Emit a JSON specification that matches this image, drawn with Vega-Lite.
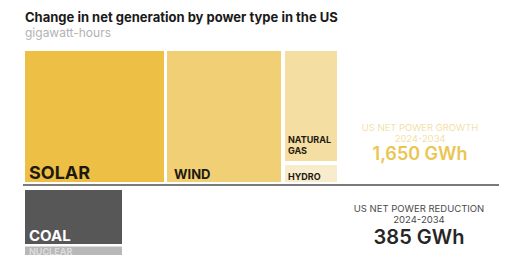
{
  "$schema": "https://vega.github.io/schema/vega-lite/v6.json",
  "width": 514,
  "height": 210,
  "autosize": "none",
  "padding": {"left": 0, "top": 45, "right": 0, "bottom": 0},
  "background": "white",
  "title": {
    "text": "Change in net generation by power type in the US",
    "subtitle": "gigawatt-hours",
    "anchor": "start",
    "dx": 25,
    "offset": 6,
    "font": "Inter",
    "fontSize": 13,
    "fontWeight": "bold",
    "color": "#1a1a1a",
    "subtitleFont": "Inter",
    "subtitleFontSize": 12,
    "subtitleColor": "#b3b3b3",
    "subtitlePadding": 3
  },
  "config": {"view": {"stroke": null}, "text": {"baseline": "alphabetic"}},
  "datasets": {
    "blocks": [
      {"type": "Solar", "x0": 25, "x1": 164, "y0": 3, "y1": 134},
      {"type": "Wind", "x0": 167, "x1": 281, "y0": 3, "y1": 134},
      {"type": "Natural gas", "x0": 285, "x1": 337, "y0": 24, "y1": 134},
      {"type": "Hydro", "x0": 285, "x1": 337, "y0": 3, "y1": 20},
      {"type": "Coal", "x0": 25, "x1": 122, "y0": -59, "y1": -5},
      {"type": "Nuclear", "x0": 25, "x1": 122, "y0": -100, "y1": -61.5}
    ],
    "baseline": [{"x0": 23, "x1": 499, "y": 0}],
    "solarLabel": [{"text": "SOLAR", "x": 29, "y": 6}],
    "windLabel": [{"text": "WIND", "x": 174, "y": 6}],
    "smallLabels": [
      {"text": "NATURAL", "x": 288, "y": 42},
      {"text": "GAS", "x": 288, "y": 31},
      {"text": "HYDRO", "x": 288, "y": 5}
    ],
    "coalLabel": [{"text": "COAL", "x": 29, "y": -56}],
    "nuclearLabel": [{"text": "NUCLEAR", "x": 29, "y": -69.5}],
    "growthNote": [
      {"text": "US NET POWER GROWTH", "x": 420, "y": 54},
      {"text": "2024-2034", "x": 420, "y": 43}
    ],
    "growthValue": [{"text": "1,650 GWh", "x": 420, "y": 25}],
    "reductionNote": [
      {"text": "US NET POWER REDUCTION", "x": 419, "y": -27},
      {"text": "2024-2034", "x": 419, "y": -38}
    ],
    "reductionValue": [{"text": "385 GWh", "x": 419, "y": -59}]
  },
  "encoding": {
    "x": {"field": "x", "type": "quantitative", "scale": {"domain": [0, 514], "nice": false, "zero": false}, "axis": null},
    "y": {"field": "y", "type": "quantitative", "scale": {"domain": [-70, 140], "nice": false, "zero": false}, "axis": null}
  },
  "layer": [
    {
      "data": {"name": "blocks"},
      "mark": {"type": "rect"},
      "encoding": {
        "x": {"field": "x0", "type": "quantitative"},
        "x2": {"field": "x1"},
        "y": {"field": "y0", "type": "quantitative"},
        "y2": {"field": "y1"},
        "color": {
          "field": "type", "type": "nominal", "legend": null,
          "scale": {
            "domain": ["Solar", "Wind", "Natural gas", "Hydro", "Coal", "Nuclear"],
            "range": ["#EDBF45", "#F1CF74", "#F5DEA2", "#F8ECCD", "#575757", "#B8B8B8"]
          }
        }
      }
    },
    {
      "data": {"name": "baseline"},
      "mark": {"type": "rule", "color": "#7a7a7a", "strokeWidth": 2},
      "encoding": {
        "x": {"field": "x0", "type": "quantitative"},
        "x2": {"field": "x1"},
        "y": {"field": "y", "type": "quantitative"}
      }
    },
    {
      "data": {"name": "solarLabel"},
      "mark": {"type": "text", "align": "left", "baseline": "alphabetic", "font": "Inter", "fontSize": 18, "fontWeight": "bold", "color": "#1e1a10"},
      "encoding": {"text": {"field": "text"}}
    },
    {
      "data": {"name": "windLabel"},
      "mark": {"type": "text", "align": "left", "baseline": "alphabetic", "font": "Inter", "fontSize": 13, "fontWeight": "bold", "color": "#1e1a10"},
      "encoding": {"text": {"field": "text"}}
    },
    {
      "data": {"name": "smallLabels"},
      "mark": {"type": "text", "align": "left", "baseline": "alphabetic", "font": "Inter", "fontSize": 9, "fontWeight": "bold", "color": "#1e1a10"},
      "encoding": {"text": {"field": "text"}}
    },
    {
      "data": {"name": "coalLabel"},
      "mark": {"type": "text", "align": "left", "baseline": "alphabetic", "font": "Inter", "fontSize": 15, "fontWeight": "bold", "color": "#ffffff"},
      "encoding": {"text": {"field": "text"}}
    },
    {
      "data": {"name": "nuclearLabel"},
      "mark": {"type": "text", "align": "left", "baseline": "alphabetic", "font": "Inter", "fontSize": 9, "fontWeight": "bold", "color": "#dcdcdc"},
      "encoding": {"text": {"field": "text"}}
    },
    {
      "data": {"name": "growthNote"},
      "mark": {"type": "text", "align": "center", "baseline": "alphabetic", "font": "Inter", "fontSize": 9.5, "fontWeight": 300, "color": "#F0D78E"},
      "encoding": {"text": {"field": "text"}}
    },
    {
      "data": {"name": "growthValue"},
      "mark": {"type": "text", "align": "center", "baseline": "alphabetic", "font": "Inter", "fontSize": 18, "fontWeight": 600, "color": "#EBC552"},
      "encoding": {"text": {"field": "text"}}
    },
    {
      "data": {"name": "reductionNote"},
      "mark": {"type": "text", "align": "center", "baseline": "alphabetic", "font": "Inter", "fontSize": 9.5, "fontWeight": 400, "color": "#4a4a4a"},
      "encoding": {"text": {"field": "text"}}
    },
    {
      "data": {"name": "reductionValue"},
      "mark": {"type": "text", "align": "center", "baseline": "alphabetic", "font": "Inter", "fontSize": 20, "fontWeight": 600, "color": "#262626"},
      "encoding": {"text": {"field": "text"}}
    }
  ]
}
